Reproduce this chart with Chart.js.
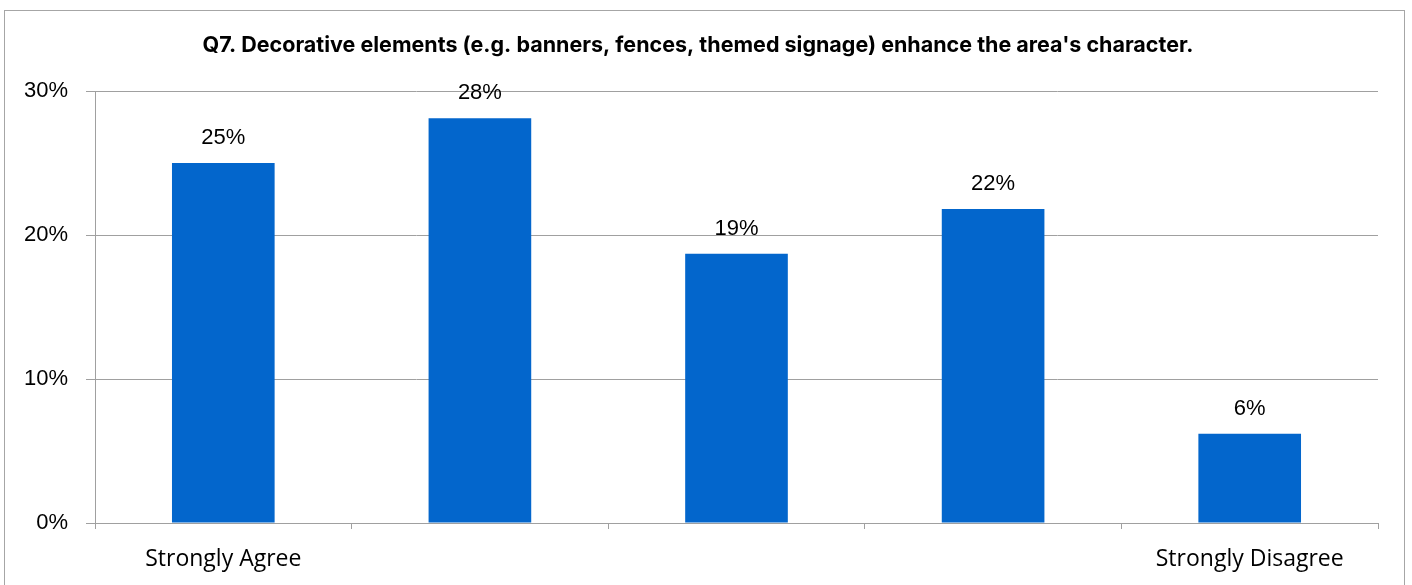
<!DOCTYPE html>
<html>
<head>
<meta charset="utf-8">
<script src="https://cdn.jsdelivr.net/npm/chart.js@4"></script>
<style>
  html, body { margin: 0; padding: 0; background: #fff; }
  #wrap { position: relative; width: 1412px; height: 585px; overflow: hidden; }
  #frame { position: absolute; left: 4px; top: 10px; width: 1401px; height: 600px; border: 1px solid #a6a6a6; box-sizing: border-box; }
  canvas { position: absolute; left: 0; top: 0; }
</style>
</head>
<body>
<div id="wrap">
  <div id="frame"></div>
  <canvas id="chart" width="1412" height="585"></canvas>
</div>
<script>
// Chart data
const categories = ['Strongly Agree', '', '', '', 'Strongly Disagree'];
const shares = [25.0, 28.1, 18.7, 21.8, 6.2];
const shareLabels = ['25%', '28%', '19%', '22%', '6%'];
const yTicks = [0, 10, 20, 30];

const titleText = "Q7. Decorative elements (e.g. banners, fences, themed signage) enhance the area's character.";

// draws the value label above each bar
const barLabels = {
  id: 'barLabels',
  afterDatasetsDraw(chart) {
    const ctx = chart.ctx;
    const meta = chart.getDatasetMeta(0);
    ctx.save();
    ctx.font = '22px "Liberation Sans", Arial, sans-serif';
    ctx.fillStyle = '#000';
    ctx.textAlign = 'center';
    ctx.textBaseline = 'alphabetic';
    meta.data.forEach((bar, i) => {
      ctx.fillText(shareLabels[i], bar.x, bar.y - 19);
    });
    ctx.restore();
  }
};

const grey = '#a0a0a0';

new Chart(document.getElementById('chart'), {
  type: 'bar',
  data: {
    labels: categories,
    datasets: [{
      data: shares,
      backgroundColor: '#0366cc',
      borderWidth: 0,
      barPercentage: 0.4,
      categoryPercentage: 1
    }]
  },
  options: {
    responsive: false,
    animation: false,
    layout: { padding: { left: 18, right: 34, top: 0, bottom: 0 } },
    plugins: {
      legend: { display: false },
      tooltip: { enabled: false },
      title: {
        display: true,
        text: titleText,
        color: '#000',
        font: { family: 'Inter, sans-serif', size: 21.5, weight: 'bold', lineHeight: 1.2 },
        padding: { top: 33, bottom: 32.2 }
      }
    },
    scales: {
      x: {
        grid: { display: true, drawOnChartArea: false, drawTicks: true, tickLength: 6, offset: true, color: grey },
        border: { display: true, color: grey },
        ticks: {
          color: '#000',
          maxRotation: 0,
          autoSkip: false,
          padding: 17,
          font: { family: '"Open Sans", sans-serif', size: 23 }
        },
        afterFit(scale) { scale.height = 62; }
      },
      y: {
        min: 0,
        max: 30,
        afterBuildTicks(scale) { scale.ticks = yTicks.map(v => ({ value: v })); },
        grid: { color: grey, drawTicks: true, tickLength: 9 },
        border: { display: true, color: grey },
        ticks: {
          color: '#000',
          padding: 18,
          font: { family: '"Liberation Sans", Arial, sans-serif', size: 22 },
          callback: v => v + '%'
        },
        afterFit(scale) { scale.width = 77; }
      }
    }
  },
  plugins: [barLabels]
});
</script>
</body>
</html>
